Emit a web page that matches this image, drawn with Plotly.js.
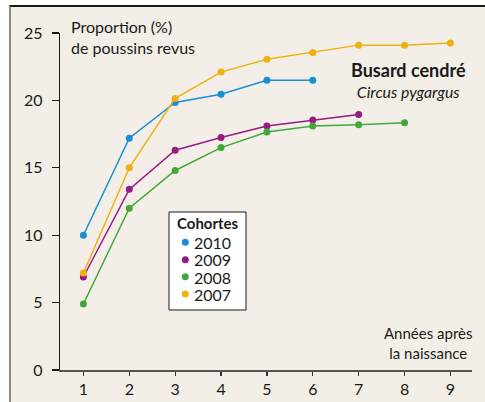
<!DOCTYPE html>
<html>
<head>
<meta charset="utf-8">
<script src="https://cdn.plot.ly/plotly-3.0.1.min.js"></script>
<style>
  html, body { margin: 0; padding: 0; background: #ffffff; width: 485px; height: 402px; overflow: hidden; }
  #frame { position: absolute; left: 9px; top: 5px; width: 476px; height: 397px; box-sizing: border-box;
           background: #f3efe8; border-left: 2px solid #8c8c8c; border-top: 2px solid #1a1a1a; }
  #chart { position: absolute; left: 0; top: 0; width: 485px; height: 402px; }
</style>
</head>
<body>
<div id="frame"></div>
<div id="chart"></div>
<script>
// Années après la naissance
const years = [1, 2, 3, 4, 5, 6, 7, 8, 9];
// Proportion (%) de poussins revus, par cohorte
const cohort2010 = [10.0, 17.2, 19.85, 20.45, 21.5, 21.5];
const cohort2009 = [6.9, 13.4, 16.3, 17.25, 18.1, 18.55, 18.95];
const cohort2008 = [4.9, 12.0, 14.8, 16.5, 17.65, 18.1, 18.2, 18.35];
const cohort2007 = [7.2, 15.0, 20.15, 22.1, 23.05, 23.55, 24.1, 24.1, 24.25];
const cohortNames = ['2010', '2009', '2008', '2007'];
const cohortValues = [cohort2010, cohort2009, cohort2008, cohort2007];
const cohortColors = ['#1a8ed2', '#951c82', '#41a838', '#efb012'];
const yTicks = [0, 5, 10, 15, 20, 25];

const FONT = 'Lato, "Open Sans", "DejaVu Sans", sans-serif';
const INK = '#1a1a1a';

const traces = cohortValues.map((vals, i) => ({
  x: years.slice(0, vals.length), y: vals, name: cohortNames[i],
  mode: 'lines+markers', showlegend: false, cliponaxis: false,
  line: {color: cohortColors[i], width: 1.5},
  marker: {color: cohortColors[i], size: 7},
  hoverinfo: 'skip'
}));

// Legend box ("Cohortes") built from the cohort names and colours
const legLeft = 0.2646, legRight = 0.4515, legBottom = 0.178, legTop = 0.4688;
const legRowY = [0.379, 0.3273, 0.2769, 0.2255];
const shapes = [{
  type: 'rect', xref: 'paper', yref: 'paper', x0: legLeft, x1: legRight, y0: legBottom, y1: legTop,
  fillcolor: '#ffffff', line: {color: INK, width: 1}, layer: 'above'
}];
cohortNames.forEach((name, i) => {
  shapes.push({
    type: 'circle', xref: 'paper', yref: 'paper', xsizemode: 'pixel', ysizemode: 'pixel',
    xanchor: 0.3041, yanchor: legRowY[i], x0: -3.5, x1: 3.5, y0: -3.5, y1: 3.5,
    fillcolor: cohortColors[i], line: {width: 0}, layer: 'above'
  });
});
const annotations = [
  {xref: 'paper', yref: 'paper', x: 0.359, y: 0.4353, xanchor: 'center', yanchor: 'middle',
   text: '<b>Cohortes</b>', showarrow: false, borderpad: 0, font: {family: FONT, size: 15, color: INK}},
  {xref: 'paper', yref: 'paper', x: 0.3228, y: 0.302, xanchor: 'left', yanchor: 'middle',
   text: cohortNames.map(n => '<span style="font-size:16px">' + n + '</span>').join('<br>'),
   align: 'left', showarrow: false, borderpad: 0, font: {family: FONT, size: 13.3, color: INK}},
  {xref: 'paper', yref: 'paper', x: 0.022, y: 0.987, xanchor: 'left', yanchor: 'middle',
   text: 'Proportion (%)<br>de poussins revus', align: 'left', showarrow: false,
   font: {family: FONT, size: 16, color: INK}},
  {xref: 'paper', yref: 'paper', x: 0.846, y: 0.862, xanchor: 'center', yanchor: 'middle',
   text: '<span style="font-size:18px"><b>Busard cendré</b></span><br><i>Circus pygargus</i>',
   align: 'center', showarrow: false, borderpad: 0,
   font: {family: FONT, size: 15.8, color: INK}},
  {xref: 'paper', yref: 'paper', x: 0.892, y: 0.0816, xanchor: 'center', yanchor: 'middle',
   text: 'Années après<br>la naissance', align: 'center', showarrow: false,
   font: {family: FONT, size: 15, color: INK}}
];

const layout = {
  width: 485, height: 402,
  margin: {l: 60, r: 13, t: 33, b: 32, pad: 0},
  paper_bgcolor: 'rgba(0,0,0,0)',
  plot_bgcolor: 'rgba(0,0,0,0)',
  font: {family: FONT, size: 15, color: INK},
  showlegend: false,
  xaxis: {
    range: [0.49, 9.47], tickvals: years, ticktext: years.map(String),
    showgrid: false, zeroline: false, showline: true, linecolor: '#555555', linewidth: 1.5,
    ticks: 'outside', ticklen: 4, tickwidth: 1.3, tickcolor: '#333333',
    tickfont: {family: FONT, size: 16, color: INK}, fixedrange: true
  },
  xaxis2: {
    overlaying: 'x', anchor: 'y', range: [0.49, 9.47], tickvals: years,
    showgrid: false, zeroline: false, showline: false, showticklabels: false,
    ticks: 'inside', ticklen: 3, tickwidth: 1.3, tickcolor: '#333333', fixedrange: true
  },
  yaxis: {
    range: [0, 25], tickvals: yTicks, ticktext: yTicks.map(String),
    showgrid: false, zeroline: false, showline: true, linecolor: INK, linewidth: 1.3,
    ticks: 'outside', ticklen: 7, tickwidth: 1.3, tickcolor: INK,
    tickfont: {family: FONT, size: 16, color: INK}, ticklabelstandoff: 6, fixedrange: true
  },
  yaxis2: {
    overlaying: 'y', anchor: 'x', range: [0, 25], tickvals: yTicks,
    showgrid: false, zeroline: false, showline: false, showticklabels: false,
    ticks: 'inside', ticklen: 2, tickwidth: 1.3, tickcolor: INK, fixedrange: true
  },
  shapes: shapes,
  annotations: annotations
};

Plotly.newPlot('chart', traces, layout, {displayModeBar: false, staticPlot: true});
</script>
</body>
</html>
